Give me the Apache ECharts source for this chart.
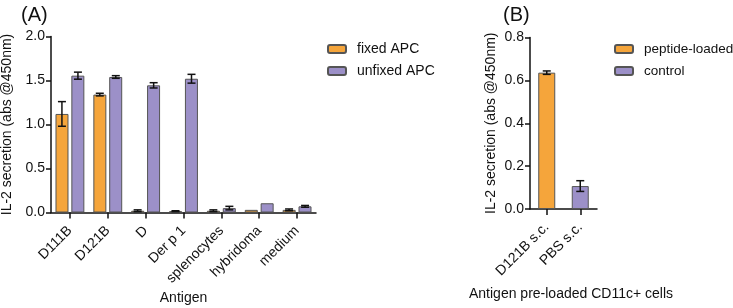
<!DOCTYPE html>
<html>
<head>
<meta charset="utf-8">
<script src="https://cdn.jsdelivr.net/npm/echarts@6/dist/echarts.min.js"></script>
<style>
  html, body { margin: 0; padding: 0; background: #fff; }
  #chart { width: 733px; height: 308px; }
</style>
</head>
<body>
<div id="chart"></div>
<script>
// Panel A data
const antigens = ['D111B', 'D121B', 'D', 'Der p 1', 'splenocytes', 'hybridoma', 'medium']
const fixedAPC = [1.12, 1.34, 0.02, 0.015, 0.02, 0.03, 0.03]
const fixedErr = [0.14, 0.015, 0.01, 0.005, 0.01, 0, 0.01]
const unfixedAPC = [1.555, 1.54, 1.445, 1.52, 0.05, 0.105, 0.07]
const unfixedErr = [0.04, 0.015, 0.03, 0.05, 0.02, 0, 0.01]
const yTicksA = [0, 2.0, 0.5]

// Panel B data
const cellGroups = ['D121B s.c.', 'PBS s.c.']
const peptideLoaded = [0.636, '-']
const peptideErr = [0.008, 0]
const control = ['-', 0.107]
const controlErr = [0, 0.025]
const yTicksB = [0, 0.8, 0.2]

const orange = '#F5A53B'
const purple = '#9C90C8'
const edge = '#555'
const font = 'Liberation Sans, Arial, sans-serif'

const chart = echarts.init(document.getElementById('chart'))

// error bars drawn as custom series; offset is in px from the category centre
const errorSeries = (xi, yi, values, errs, offset) => ({
  type: 'custom',
  xAxisIndex: xi,
  yAxisIndex: yi,
  z: 5,
  data: values.map((v, i) => [i, v, errs[i]]).filter((d) => d[1] !== '-' && d[2] > 0),
  renderItem: (params, api) => {
    const i = api.value(0)
    const v = api.value(1)
    const e = api.value(2)
    const hi = api.coord([i, v + e])
    const lo = api.coord([i, v - e])
    const x = hi[0] + offset
    const cap = 4
    const style = { stroke: '#111', lineWidth: 1.5 }
    return {
      type: 'group',
      children: [
        { type: 'line', shape: { x1: x, y1: hi[1], x2: x, y2: lo[1] }, style },
        { type: 'line', shape: { x1: x - cap, y1: hi[1], x2: x + cap, y2: hi[1] }, style },
        { type: 'line', shape: { x1: x - cap, y1: lo[1], x2: x + cap, y2: lo[1] }, style },
      ],
    }
  },
})

const axisLine = { show: true, lineStyle: { color: '#111', width: 1.5 } }

const valueAxis = (gi, ticks, name, gap) => ({
  type: 'value',
  gridIndex: gi,
  min: ticks[0],
  max: ticks[1],
  interval: ticks[2],
  name: name,
  nameLocation: 'middle',
  nameGap: gap,
  nameMoveOverlap: false,
  nameTextStyle: { fontFamily: font, fontSize: 14, color: '#111' },
  axisLine: axisLine,
  axisTick: { show: true, length: 5, lineStyle: { color: '#111', width: 1.5 } },
  axisLabel: { fontFamily: font, fontSize: 14, color: '#111', margin: 6, formatter: (v) => v.toFixed(1) },
  splitLine: { show: false },
})

const catAxis = (gi, cats, name, gap, pad) => ({
  type: 'category',
  gridIndex: gi,
  data: cats,
  name: name,
  nameLocation: 'middle',
  nameGap: gap,
  nameMoveOverlap: false,
  nameTextStyle: { fontFamily: font, fontSize: 14, color: '#111', padding: pad },
  axisLine: axisLine,
  axisTick: { show: true, alignWithLabel: true, length: 6, lineStyle: { color: '#111', width: 1.5 } },
  axisLabel: { fontFamily: font, fontSize: 14, color: '#111', rotate: 45, margin: 16, interval: 0 },
})

const barStyle = (c) => ({ color: c, borderColor: edge, borderWidth: 1 })

const legendBase = {
  orient: 'vertical',
  top: 42,
  padding: 0,
  itemWidth: 18,
  itemHeight: 8,
  itemGap: 8,
}

const option = {
  animation: false,
  title: [
    { text: '(A)', left: 16, top: 0, textStyle: { fontFamily: font, fontSize: 20, fontWeight: 'normal', color: '#111' } },
    { text: '(B)', left: 498, top: 0, textStyle: { fontFamily: font, fontSize: 20, fontWeight: 'normal', color: '#111' } },
  ],
  legend: [
    {
      ...legendBase,
      data: ['fixed APC', 'unfixed APC'],
      left: 327,
      textStyle: { fontFamily: font, fontSize: 14, color: '#111', padding: [0, 0, 0, 6] },
    },
    {
      ...legendBase,
      data: ['peptide-loaded', 'control'],
      left: 614,
      textStyle: { fontFamily: font, fontSize: 13.5, color: '#111', padding: [0, 0, 0, 6] },
    },
  ],
  grid: [
    { left: 51, top: 36.5, width: 265, height: 176, outerBoundsMode: 'none' },
    { left: 530, top: 37.5, width: 67, height: 171.5, outerBoundsMode: 'none' },
  ],
  xAxis: [
    catAxis(0, antigens, 'Antigen', 79, [0, 0, 0, 0]),
    catAxis(1, cellGroups, 'Antigen pre-loaded CD11c+ cells', 78, [0, 0, 0, 15]),
  ],
  yAxis: [
    valueAxis(0, yTicksA, 'IL-2 secretion (abs @450nm)', 37),
    valueAxis(1, yTicksB, 'IL-2 secretion (abs @450nm)', 32),
  ],
  series: [
    { name: 'fixed APC', type: 'bar', xAxisIndex: 0, yAxisIndex: 0, data: fixedAPC, barWidth: 13, barGap: '22%', itemStyle: barStyle(orange) },
    { name: 'unfixed APC', type: 'bar', xAxisIndex: 0, yAxisIndex: 0, data: unfixedAPC, barWidth: 13, barGap: '22%', itemStyle: barStyle(purple) },
    errorSeries(0, 0, fixedAPC, fixedErr, -8),
    errorSeries(0, 0, unfixedAPC, unfixedErr, 8),
    { name: 'peptide-loaded', type: 'bar', xAxisIndex: 1, yAxisIndex: 1, data: peptideLoaded, barWidth: 17, barGap: '-100%', itemStyle: barStyle(orange) },
    { name: 'control', type: 'bar', xAxisIndex: 1, yAxisIndex: 1, data: control, barWidth: 17, barGap: '-100%', itemStyle: barStyle(purple) },
    errorSeries(1, 1, peptideLoaded, peptideErr, 0),
    errorSeries(1, 1, control, controlErr, 0),
  ],
}

chart.setOption(option)
window.addEventListener('resize', () => chart.resize())
</script>
</body>
</html>
